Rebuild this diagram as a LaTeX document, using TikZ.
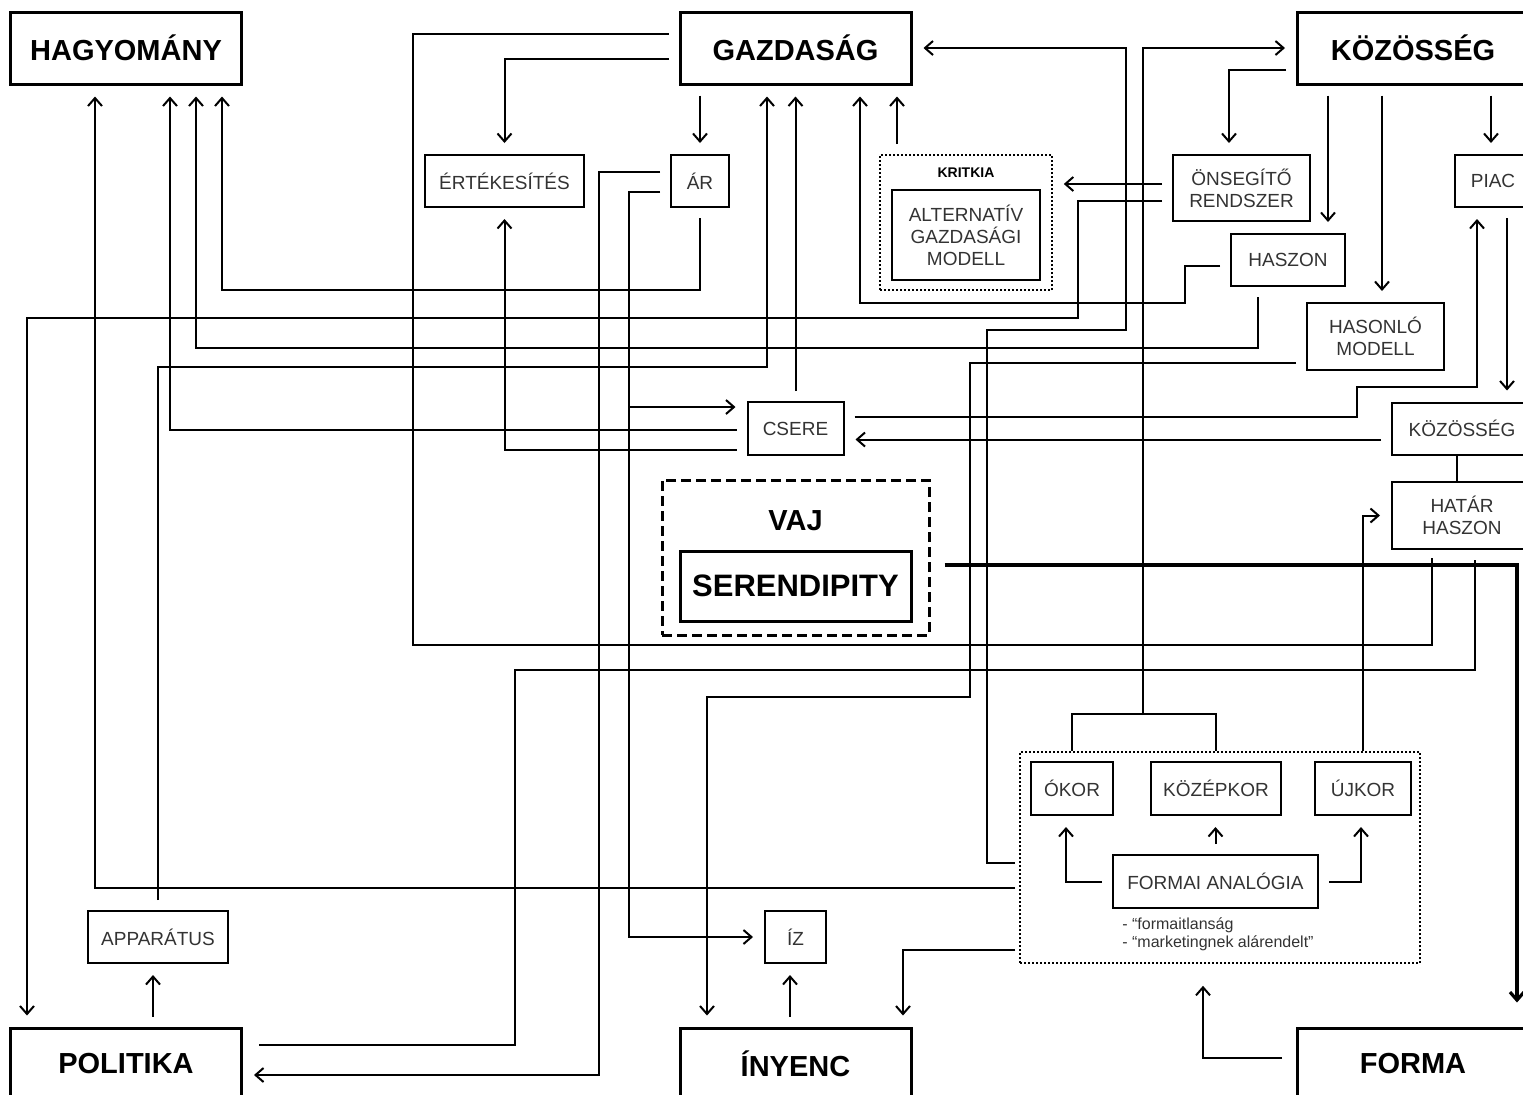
\documentclass[tikz,border=0pt]{standalone}
\usepackage{fontspec}
\setmainfont{Liberation Sans}
\usetikzlibrary{arrows.meta}

\begin{document}
\begin{tikzpicture}[x=0.5pt, y=-0.5pt,
    bigbox/.style={draw, line width=1.5pt, font=\fontsize{14.5}{17}\selectfont\bfseries, minimum width=115.5pt, minimum height=36pt, inner sep=0pt},
    smallbox/.style={draw, line width=1pt, font=\fontsize{9.5}{11}\selectfont, text=black!80, align=center, inner sep=0pt},
    dotbox/.style={draw, line width=0.8pt, dash pattern=on 1pt off 1pt},
    conn/.style={line width=1pt, shorten <=5pt, shorten >=4pt},
    arr/.style={conn, -{Straight Barb[length=4pt,width=7pt]}, shorten >=5.5pt}]
\useasboundingbox (0,0) rectangle (1523,1094);

% main boxes
\node[bigbox] (hag) at (126,48) {HAGYOMÁNY};
\node[bigbox] (gaz) at (795.5,48) {GAZDASÁG};
\node[bigbox] (koz) at (1413,48) {KÖZÖSSÉG};
\node[bigbox] (pol) at (126,1064) {POLITIKA};
\node[bigbox] (iny) at (795.5,1064) {ÍNYENC};
\node[bigbox] (forma) at (1413,1064) {FORMA};

% small boxes
\node[smallbox, minimum width=79.5pt, minimum height=26pt] (ert) at (504.5,181) {ÉRTÉKESÍTÉS};
\node[smallbox, minimum width=29pt, minimum height=26pt] (ar) at (700,181) {ÁR};
\node[dotbox, minimum width=86pt, minimum height=67.5pt] (krit) at (966,222.5) {};
\node[font=\fontsize{7}{8}\selectfont\bfseries] (kritlbl) at (966,173) {KRITKIA};
\node[smallbox, minimum width=74pt, minimum height=45pt] (alt) at (966,235) {ALTERNATÍV\\GAZDASÁGI\\MODELL};
\node[smallbox, minimum width=68.5pt, minimum height=33pt] (ons) at (1241.5,188) {ÖNSEGÍTŐ\\RENDSZER};
\node[smallbox, minimum width=57pt, minimum height=26pt] (haszon) at (1288,260) {HASZON};
\node[smallbox, minimum width=68.5pt, minimum height=33.5pt] (hasonlo) at (1375.5,336.5) {HASONLÓ\\MODELL};
\node[smallbox, minimum width=38pt, minimum height=26pt] (piac) at (1493,181) {PIAC};
\node[smallbox, minimum width=48pt, minimum height=26.5pt] (csere) at (795.5,428.5) {CSERE};
\node[smallbox, minimum width=70pt, minimum height=26pt] (kozk) at (1462,428.5) {KÖZÖSSÉG};
\node[smallbox, minimum width=70pt, minimum height=33.5pt] (hatar) at (1462,515.5) {HATÁR\\HASZON};
\node[smallbox, minimum width=70pt, minimum height=26pt] (app) at (158,937) {APPARÁTUS};
\node[smallbox, minimum width=30.5pt, minimum height=26pt] (iz) at (795.5,937) {ÍZ};

% vaj
\node[draw, line width=1.5pt, dash pattern=on 5pt off 2.5pt, minimum width=133.5pt, minimum height=77.5pt] (vaj) at (795.5,557.5) {};
\node[font=\fontsize{14.5}{17}\selectfont\bfseries] (vajlbl) at (795.5,521) {VAJ};
\node[bigbox, font=\fontsize{15.5}{18}\selectfont\bfseries, minimum height=35pt] (ser) at (795.5,586) {SERENDIPITY};

% formai analogia
\node[dotbox, minimum width=200pt, minimum height=105.5pt] (formai) at (1220,857.5) {};
\node[smallbox, minimum width=41pt, minimum height=26.5pt] (okor) at (1072,788.5) {ÓKOR};
\node[smallbox, minimum width=65pt, minimum height=26.5pt] (kozep) at (1216,788.5) {KÖZÉPKOR};
\node[smallbox, minimum width=48pt, minimum height=26.5pt] (ujkor) at (1363,788.5) {ÚJKOR};
\node[smallbox, minimum width=102.5pt, minimum height=26.5pt] (fa) at (1215.5,881.5) {FORMAI ANALÓGIA};
\node[anchor=north west, font=\fontsize{8}{9}\selectfont, align=left, inner sep=0pt, text=black!80] (megj) at (1122,917) {- “formaitlanság\\- “marketingnek alárendelt”};

\coordinate (brk) at (629,407);
\coordinate (split) at (1143,715);

% gazdasag
\draw[conn] ([shift={(0,-14)}]gaz.west) -| (413,645) -| ([shift={(-30,0)}]hatar.south);
\draw[arr] ([shift={(0,11)}]gaz.west) -| (ert.north);
\draw[arr] (ar.north |- gaz.south) -- (ar.north);
\draw[arr] (ar.south) -- (700,290) -| ([shift={(96,0)}]hag.south);
\draw[arr] ([shift={(0,-9)}]ar.west) -| (599,1075) -- ([shift={(0,11)}]pol.east);
\draw[arr] ([shift={(0,11)}]ar.west) -| (629,937) -- (iz.west);
\draw[arr, shorten <=0pt] (brk) -- ([shift={(0,-21.5)}]csere.west);
\draw[arr] ([shift={(-69,0)}]krit.north) -- ([shift={(101.5,0)}]gaz.south);
\draw[arr] (app.north) |- (767,367) -- ([shift={(-28.5,0)}]gaz.south);
\draw[arr] (csere.north) -- (gaz.south);

% kozosseg
\draw[arr] ([shift={(0,22)}]koz.west) -| ([shift={(-12.5,0)}]ons.north);
\draw[arr] ([shift={(-85,0)}]koz.south) -- ([shift={(40,0)}]haszon.north);
\draw[arr] ([shift={(-31,0)}]koz.south) -- ([shift={(6.5,0)}]hasonlo.north);
\draw[arr] ([shift={(78,0)}]koz.south) -- ([shift={(-2,0)}]piac.north);
\draw[arr] ([shift={(0,-4)}]ons.west) -- ([shift={(0,-38.5)}]krit.east);
\draw[arr] ([shift={(0,13)}]ons.west) -| (1078,318) -| ([shift={(-99,0)}]pol.north);
\draw[arr] ([shift={(0,6)}]haszon.west) -| (1185,303) -| ([shift={(64.5,0)}]gaz.south);
\draw[arr] ([shift={(-30,0)}]haszon.south) |- (196,348) -- ([shift={(70,0)}]hag.south);
\draw[arr] ([shift={(0,26.5)}]hasonlo.west) -| (970,697) -| ([shift={(-88.5,0)}]iny.north);
\draw[arr] ([shift={(14,0)}]piac.south) -- ([shift={(45,0)}]kozk.north);
\draw[conn, shorten <=0pt, shorten >=0pt] ([shift={(-5,0)}]kozk.south) -- ([shift={(-5,0)}]hatar.north);

% csere
\draw[arr] ([shift={(0,1.5)}]csere.west) -| ([shift={(44,0)}]hag.south);
\draw[arr] ([shift={(0,21.5)}]csere.west) -| (ert.south);
\draw[arr] ([shift={(0,-11.5)}]csere.east) -| (1357,387) -| ([shift={(-16,0)}]piac.south);
\draw[arr] ([shift={(0,11)}]kozk.west) -- ([shift={(0,11)}]csere.east);

% hatar haszon, vaj
\draw[conn, shorten >=8pt] ([shift={(13,0)}]hatar.south) |- (515,670) |- ([shift={(0,-19)}]pol.east);
\draw[arr, line width=1.6pt, shorten <=7pt, shorten >=12pt] ([shift={(0,7.5)}]vaj.east) -| ([shift={(104,0)}]forma.north);

% korok
\draw[conn, shorten <=0pt, shorten >=0pt] (okor.north |- formai.north) -- ++(0,-37) -| (kozep.north |- formai.north);
\draw[arr, shorten <=0pt] (split) |- (koz.west);
\draw[arr, shorten <=0pt] (ujkor.north |- formai.north) |- (hatar.west);
\draw[arr] (fa.west) -| ([shift={(-6,0)}]okor.south);
\draw[arr] (fa.north) -- (fa.north |- okor.south);
\draw[arr] (fa.east) -| ([shift={(-2,0)}]ujkor.south);
\draw[arr, shorten <=2pt] ([shift={(0,5.5)}]formai.west) -| (987,330) -| (1126,48) -- (gaz.east);
\draw[arr, shorten <=2pt] ([shift={(0,30.5)}]formai.west) -| ([shift={(-31,0)}]hag.south);
\draw[arr, shorten <=2pt] ([shift={(0,92.5)}]formai.west) -| ([shift={(107.5,0)}]iny.north);
\draw[arr, shorten <=7pt, shorten >=11pt] ([shift={(0,-6)}]forma.west) -| ([shift={(-17,0)}]formai.south);

% also
\draw[arr] ([shift={(-5.5,0)}]iny.north) -- ([shift={(-5.5,0)}]iz.south);
\draw[arr] ([shift={(27,0)}]pol.north) -- ([shift={(-5,0)}]app.south);
\end{tikzpicture}
\end{document}
